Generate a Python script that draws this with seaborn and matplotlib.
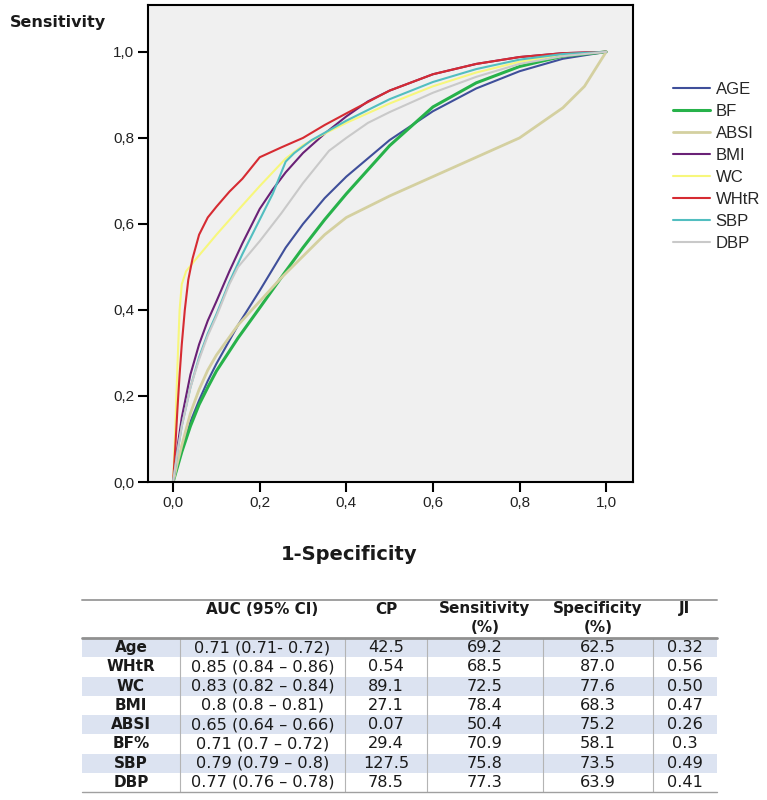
# ROC curves of anthropometric / clinical markers with a summary table below
import numpy as np
import pandas as pd
import matplotlib
matplotlib.use("Agg")
import matplotlib.pyplot as plt
import seaborn as sns

# ROC points (1-specificity, sensitivity)
age_fpr = [0, 0.01, 0.02, 0.04, 0.06, 0.08, 0.1, 0.15, 0.2, 0.26, 0.3, 0.35, 0.4, 0.5, 0.6, 0.7, 0.8, 0.9, 1.0]
age_tpr = [0, 0.04, 0.075, 0.14, 0.19, 0.235, 0.275, 0.365, 0.445, 0.545, 0.6, 0.66, 0.71, 0.795, 0.862, 0.915, 0.955, 0.984, 1.0]

bf_fpr = [0, 0.01, 0.02, 0.04, 0.06, 0.08, 0.1, 0.15, 0.2, 0.26, 0.3, 0.35, 0.4, 0.5, 0.6, 0.7, 0.8, 0.9, 1.0]
bf_tpr = [0, 0.035, 0.07, 0.13, 0.18, 0.22, 0.258, 0.335, 0.405, 0.49, 0.545, 0.61, 0.67, 0.782, 0.872, 0.928, 0.966, 0.99, 1.0]

absi_fpr = [0, 0.01, 0.02, 0.04, 0.06, 0.08, 0.1, 0.15, 0.2, 0.25, 0.3, 0.35, 0.4, 0.5, 0.6, 0.7, 0.8, 0.9, 0.95, 1.0]
absi_tpr = [0, 0.045, 0.085, 0.16, 0.215, 0.26, 0.295, 0.365, 0.42, 0.475, 0.525, 0.575, 0.615, 0.665, 0.71, 0.755, 0.8, 0.87, 0.92, 1.0]

bmi_fpr = [0, 0.01, 0.02, 0.04, 0.06, 0.08, 0.1, 0.13, 0.16, 0.2, 0.23, 0.26, 0.3, 0.35, 0.4, 0.45, 0.5, 0.6, 0.7, 0.8, 0.9, 1.0]
bmi_tpr = [0, 0.08, 0.15, 0.25, 0.32, 0.375, 0.42, 0.49, 0.555, 0.635, 0.68, 0.72, 0.765, 0.81, 0.85, 0.885, 0.91, 0.948, 0.972, 0.988, 0.997, 1.0]

wc_fpr = [0, 0.005, 0.01, 0.015, 0.02, 0.03, 0.05, 0.1, 0.15, 0.2, 0.26, 0.3, 0.35, 0.4, 0.5, 0.6, 0.7, 0.8, 0.9, 1.0]
wc_tpr = [0, 0.12, 0.27, 0.40, 0.46, 0.49, 0.515, 0.575, 0.632, 0.688, 0.752, 0.783, 0.81, 0.835, 0.88, 0.92, 0.952, 0.977, 0.994, 1.0]

whtr_fpr = [0, 0.005, 0.01, 0.015, 0.02, 0.027, 0.035, 0.045, 0.06, 0.08, 0.1, 0.13, 0.16, 0.2, 0.25, 0.3, 0.35, 0.4, 0.5, 0.6, 0.7, 0.8, 0.9, 1.0]
whtr_tpr = [0, 0.08, 0.17, 0.25, 0.32, 0.40, 0.47, 0.52, 0.575, 0.615, 0.64, 0.675, 0.705, 0.755, 0.778, 0.80, 0.83, 0.857, 0.91, 0.948, 0.972, 0.988, 0.997, 1.0]

sbp_fpr = [0, 0.01, 0.02, 0.04, 0.06, 0.08, 0.1, 0.13, 0.16, 0.2, 0.23, 0.26, 0.28, 0.32, 0.4, 0.5, 0.6, 0.7, 0.8, 0.9, 1.0]
sbp_tpr = [0, 0.07, 0.13, 0.22, 0.29, 0.345, 0.39, 0.465, 0.53, 0.61, 0.67, 0.745, 0.765, 0.795, 0.84, 0.89, 0.93, 0.96, 0.982, 0.995, 1.0]

dbp_fpr = [0, 0.01, 0.02, 0.04, 0.06, 0.08, 0.1, 0.13, 0.15, 0.2, 0.25, 0.3, 0.36, 0.4, 0.45, 0.5, 0.6, 0.7, 0.8, 0.9, 1.0]
dbp_tpr = [0, 0.07, 0.13, 0.22, 0.285, 0.34, 0.385, 0.46, 0.5, 0.56, 0.625, 0.695, 0.77, 0.8, 0.835, 0.86, 0.905, 0.942, 0.972, 0.99, 1.0]

markers = ["AGE", "BF", "ABSI", "BMI", "WC", "WHtR", "SBP", "DBP"]
curves = {
    "AGE": (age_fpr, age_tpr),
    "BF": (bf_fpr, bf_tpr),
    "ABSI": (absi_fpr, absi_tpr),
    "BMI": (bmi_fpr, bmi_tpr),
    "WC": (wc_fpr, wc_tpr),
    "WHtR": (whtr_fpr, whtr_tpr),
    "SBP": (sbp_fpr, sbp_tpr),
    "DBP": (dbp_fpr, dbp_tpr),
}
colors = {
    "AGE": "#3f4f9a", "BF": "#27b24a", "ABSI": "#d4d0a0", "BMI": "#6a2176",
    "WC": "#f7f77c", "WHtR": "#d62b32", "SBP": "#52bec0", "DBP": "#c9c9c9",
}
widths = {"BF": 2.2, "ABSI": 2.0}

# table values
row_names = ["Age", "WHtR", "WC", "BMI", "ABSI", "BF%", "SBP", "DBP"]
auc_ci = ["0.71 (0.71- 0.72)", "0.85 (0.84 \u2013 0.86)", "0.83 (0.82 \u2013 0.84)", "0.8 (0.8 \u2013 0.81)",
          "0.65 (0.64 \u2013 0.66)", "0.71 (0.7 \u2013 0.72)", "0.79 (0.79 \u2013 0.8)", "0.77 (0.76 \u2013 0.78)"]
cp = ["42.5", "0.54", "89.1", "27.1", "0.07", "29.4", "127.5", "78.5"]
sens = ["69.2", "68.5", "72.5", "78.4", "50.4", "70.9", "75.8", "77.3"]
spec = ["62.5", "87.0", "77.6", "68.3", "75.2", "58.1", "73.5", "63.9"]
ji = ["0.32", "0.56", "0.50", "0.47", "0.26", "0.3", "0.49", "0.41"]

# long-form frame for seaborn
frames = []
for m in markers:
    fx, fy = curves[m]
    frames.append(pd.DataFrame({"fpr": fx, "tpr": fy, "marker": m}))
roc = pd.concat(frames, ignore_index=True)

sns.set_style("white")
plt.rcParams["font.family"] = ["Liberation Sans", "DejaVu Sans"]

fig = plt.figure(figsize=(7.67, 8.0), dpi=100)
ax = fig.add_axes([148 / 767, 1 - 482 / 800, 485 / 767, 477 / 800])
ax.set_facecolor("#f0f0f0")

for m in markers:
    sns.lineplot(data=roc[roc["marker"] == m], x="fpr", y="tpr", sort=False, estimator=None,
                 color=colors[m], linewidth=widths.get(m, 1.5), label=m, ax=ax)

ax.set_xlim(-0.058, 1.062)
ax.set_ylim(0, 1.109)
ticks = [0, 0.2, 0.4, 0.6, 0.8, 1.0]
ax.set_xticks(ticks)
ax.set_yticks(ticks)
ax.set_xticklabels([f"{t:.1f}".replace(".", ",") for t in ticks], fontsize=11, color="#222222")
ax.set_yticklabels([f"{t:.1f}".replace(".", ",") for t in ticks], fontsize=11, color="#222222")
ax.tick_params(direction="out", length=7, width=1.5, color="black", pad=3, bottom=True, left=True)
for s in ax.spines.values():
    s.set_color("black")
    s.set_linewidth(1.5)
ax.set_xlabel("")
ax.set_ylabel("")

ax.legend(loc="upper left", bbox_to_anchor=(673 / 767, 1 - 82 / 800), bbox_transform=fig.transFigure,
          frameon=False, fontsize=12, borderpad=0, borderaxespad=0, handlelength=2.2,
          handletextpad=0.35, labelspacing=0.42)

fig.text(10 / 767, 1 - 22 / 800, "Sensitivity", fontsize=11.5, fontweight="bold",
         family="DejaVu Sans", va="center", ha="left", color="#1a1a1a")
fig.text(349 / 767, 1 - 555 / 800, "1-Specificity", fontsize=14, fontweight="bold",
         family="DejaVu Sans", va="center", ha="center", color="#1a1a1a")

# table drawn in pixel coordinates
tab = fig.add_axes([0, 0, 1, 205 / 800])
tab.set_xlim(0, 767)
tab.set_ylim(800, 595)
tab.axis("off")

left, right = 82, 717
col_edges = [82, 180, 345, 427, 543, 653, 717]
centers = [(a + b) / 2 for a, b in zip(col_edges[:-1], col_edges[1:])]
head_top, head_bot, row_h = 600, 638, 19.25

for i in range(len(row_names)):
    if i % 2 == 0:
        y0 = head_bot + i * row_h
        tab.fill_between([left, right], y0, y0 + row_h, color="#dce3f1", lw=0)

for x in col_edges[1:-1]:
    tab.plot([x, x], [head_bot, head_bot + 8 * row_h], color="#b4b4b4", lw=0.8)
tab.plot([left, right], [head_top, head_top], color="#a0a0a0", lw=1.4)
tab.plot([left, right], [head_bot, head_bot], color="#909090", lw=2)
tab.plot([left, right], [head_bot + 8 * row_h, head_bot + 8 * row_h], color="#a0a0a0", lw=1)

hkw = dict(fontsize=11, fontweight="bold", family="DejaVu Sans", ha="center", va="center", color="#1a1a1a")
tab.text(centers[1], 609, "AUC (95% CI)", **hkw)
tab.text(centers[2], 609, "CP", **hkw)
tab.text(centers[3], 609, "Sensitivity", **hkw)
tab.text(centers[3], 627, "(%)", **hkw)
tab.text(centers[4], 609, "Specificity", **hkw)
tab.text(centers[4], 627, "(%)", **hkw)
tab.text(centers[5], 609, "JI", **hkw)

cells = [auc_ci, cp, sens, spec, ji]
for i, name in enumerate(row_names):
    yc = head_bot + (i + 0.5) * row_h
    tab.text(centers[0], yc, name, **hkw)
    for j, col in enumerate(cells):
        tab.text(centers[j + 1], yc, col[i], fontsize=11.6, family="DejaVu Sans",
                 ha="center", va="center", color="#1a1a1a")

fig.savefig("out.png", dpi=100)
